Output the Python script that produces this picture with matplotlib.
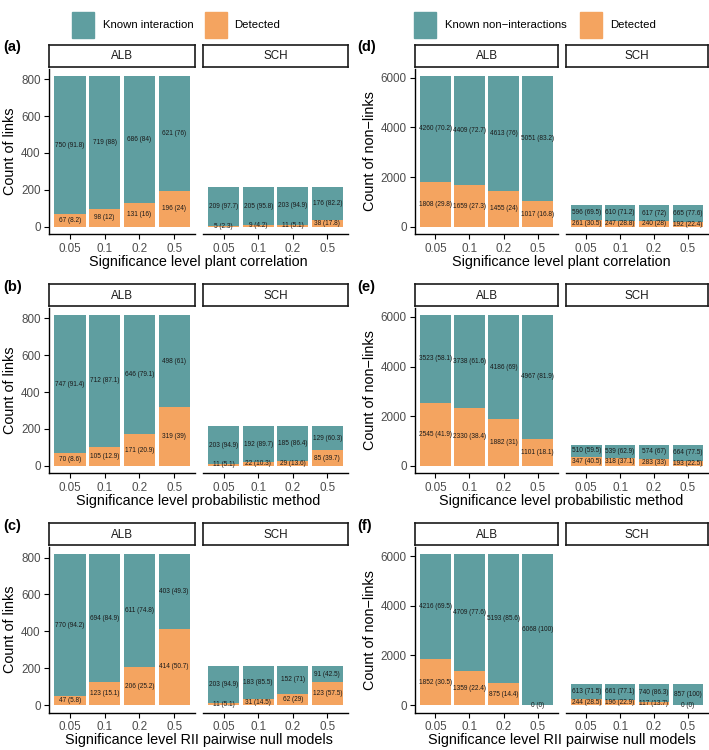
import matplotlib
matplotlib.use("Agg")
import matplotlib.pyplot as plt
from matplotlib.patches import Rectangle

plt.rcParams['font.family'] = ['Liberation Sans', 'DejaVu Sans']

levels = ["0.05", "0.1", "0.2", "0.5"]
sites = ["ALB", "SCH"]

# (a) links, plant correlation
a_alb_known = [750, 719, 686, 621]
a_alb_det = [67, 98, 131, 196]
a_sch_known = [209, 205, 203, 176]
a_sch_det = [5, 9, 11, 38]
# (b) links, probabilistic method
b_alb_known = [747, 712, 646, 498]
b_alb_det = [70, 105, 171, 319]
b_sch_known = [203, 192, 185, 129]
b_sch_det = [11, 22, 29, 85]
# (c) links, RII pairwise null models
c_alb_known = [770, 694, 611, 403]
c_alb_det = [47, 123, 206, 414]
c_sch_known = [203, 183, 152, 91]
c_sch_det = [11, 31, 62, 123]
# (d) non-links, plant correlation
d_alb_known = [4260, 4409, 4613, 5051]
d_alb_det = [1808, 1659, 1455, 1017]
d_sch_known = [596, 610, 617, 665]
d_sch_det = [261, 247, 240, 192]
# (e) non-links, probabilistic method
e_alb_known = [3523, 3738, 4186, 4967]
e_alb_det = [2545, 2330, 1882, 1101]
e_sch_known = [510, 539, 574, 664]
e_sch_det = [347, 318, 283, 193]
# (f) non-links, RII pairwise null models
f_alb_known = [4216, 4709, 5193, 6068]
f_alb_det = [1852, 1359, 875, 0]
f_sch_known = [613, 661, 740, 857]
f_sch_det = [244, 196, 117, 0]

xlabels = ["Significance level plant correlation",
           "Significance level probabilistic method",
           "Significance level RII pairwise null models"]
ylabels = ["Count of links", "Count of non\u2212links"]
legend_labels = [["Known interaction", "Detected"],
                 ["Known non\u2212interactions", "Detected"]]
tags = [["(a)", "(b)", "(c)"], ["(d)", "(e)", "(f)"]]
yticks = [[0, 200, 400, 600, 800], [0, 2000, 4000, 6000]]

panels = [
    [(a_alb_known, a_alb_det, a_sch_known, a_sch_det),
     (b_alb_known, b_alb_det, b_sch_known, b_sch_det),
     (c_alb_known, c_alb_det, c_sch_known, c_sch_det)],
    [(d_alb_known, d_alb_det, d_sch_known, d_sch_det),
     (e_alb_known, e_alb_det, e_sch_known, e_sch_det),
     (f_alb_known, f_alb_det, f_sch_known, f_sch_det)],
]

TEAL = "#5F9EA0"
ORANGE = "#F4A460"
W, H = 709, 750

fig = plt.figure(figsize=(W / 100, H / 100), dpi=100)


def px_axes(x0, y0, x1, y1):
    return fig.add_axes([x0 / W, 1 - y1 / H, (x1 - x0) / W, (y1 - y0) / H])


def fmt(n, tot):
    if tot == 0:
        return "%d (0)" % n
    return "%d (%s)" % (n, format(round(100 * n / tot, 1), "g"))


# facet x-ranges in pixels for each column
facet_x = [[(49, 195), (203, 348)], [(415, 558), (566, 708)]]
row_step = 239.2

for col in range(2):
    for row in range(3):
        dy = row * row_step
        vals = panels[col][row]
        ymax = max(k + d for k, d in zip(vals[0], vals[1]))
        for fi, site in enumerate(sites):
            known = vals[2 * fi]
            det = vals[2 * fi + 1]
            x0, x1 = facet_x[col][fi]
            ax = px_axes(x0, 68.5 + dy, x1, 234.2 + dy)
            xs = range(len(levels))
            ax.bar(xs, det, width=0.9, color=ORANGE, linewidth=0)
            ax.bar(xs, known, bottom=det, width=0.9, color=TEAL, linewidth=0)
            for i in xs:
                tot = known[i] + det[i]
                ax.text(i, det[i] + known[i] / 2, fmt(known[i], tot),
                        ha="center", va="center", fontsize=4.7, color="#1a1a1a")
                ax.text(i, det[i] / 2, fmt(det[i], tot),
                        ha="center", va="center", fontsize=4.7, color="#1a1a1a")
            ax.set_xlim(-0.6, len(levels) - 0.4)
            ax.set_ylim(-0.05 * ymax, 1.05 * ymax)
            ax.set_xticks(list(xs))
            ax.set_xticklabels(levels)
            for s in ["top", "right"]:
                ax.spines[s].set_visible(False)
            ax.spines["bottom"].set_linewidth(1.0)
            ax.spines["left"].set_linewidth(1.0)
            ax.tick_params(axis="both", labelsize=8.4, labelcolor="#4D4D4D",
                           length=3.5, width=0.8, pad=2.5)
            if fi == 0:
                ax.set_yticks(yticks[col])
                ax.set_ylabel(ylabels[col], fontsize=10.4, labelpad=3)
            else:
                ax.spines["left"].set_visible(False)
                ax.set_yticks([])
            # strip
            sx = px_axes(x0, 44.5 + dy, x1, 67 + dy)
            sx.set_xticks([])
            sx.set_yticks([])
            for s in sx.spines.values():
                s.set_linewidth(1.2)
                s.set_color("#1a1a1a")
            sx.text(0.5, 0.47, site, ha="center", va="center", fontsize=8.4,
                    color="#1a1a1a", transform=sx.transAxes)
        # shared x label for the row
        xc = (facet_x[col][0][0] + facet_x[col][1][1]) / 2
        fig.text(xc / W, 1 - (262 + dy) / H, xlabels[row], ha="center",
                 va="center", fontsize=10.4)
        tx = 3 if col == 0 else 357
        fig.text(tx / W, 1 - (47.5 + dy) / H, tags[col][row], ha="left",
                 va="center", fontsize=10.5, fontweight="bold")

# legends above each column
legend_pos = [[(72, 103), (205, 234)], [(414, 445), (580, 610)]]
for col in range(2):
    for j, colr in enumerate([TEAL, ORANGE]):
        bx, tx = legend_pos[col][j]
        fig.patches.append(Rectangle((bx / W, 1 - 38 / H), 22 / W, 26 / H,
                                     transform=fig.transFigure, color=colr))
        fig.text(tx / W, 1 - 25 / H, legend_labels[col][j], ha="left",
                 va="center", fontsize=8.2)

fig.savefig("out.png", dpi=100)
